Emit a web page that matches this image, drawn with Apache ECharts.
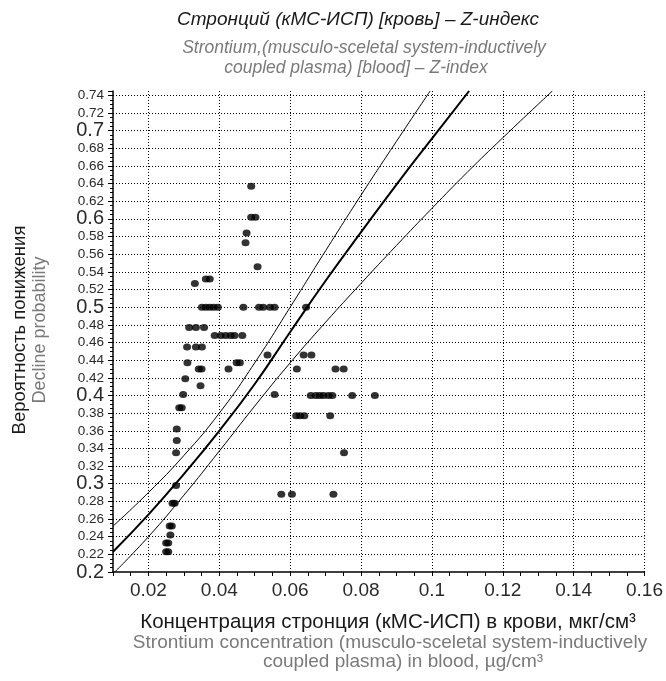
<!DOCTYPE html>
<html>
<head>
<meta charset="utf-8">
<script src="https://cdn.jsdelivr.net/npm/echarts@6/dist/echarts.min.js"></script>
<style>
html,body{margin:0;padding:0;background:#fff;}
#chart{width:666px;height:681px;}
</style>
</head>
<body>
<div id="chart"></div>
<script>
// ---- data ----
const xGridTicks = [0.02, 0.04, 0.06, 0.08, 0.10, 0.12, 0.14, 0.16];
const yGridTicks = [0.22, 0.24, 0.26, 0.28, 0.30, 0.32, 0.34, 0.36, 0.38, 0.40, 0.42, 0.44, 0.46, 0.48, 0.50, 0.52, 0.54, 0.56, 0.58, 0.60, 0.62, 0.64, 0.66, 0.68, 0.70, 0.72, 0.74];

const centralX = [0.01, 0.02, 0.03, 0.04, 0.05, 0.06, 0.07, 0.08, 0.09, 0.10, 0.1105];
const centralP = [0.223, 0.265, 0.311, 0.360, 0.413, 0.472, 0.530, 0.585, 0.639, 0.691, 0.745];

const upperX = [0.01, 0.02, 0.03, 0.04, 0.05, 0.06, 0.07, 0.08, 0.09, 0.0995];
const upperP = [0.252, 0.290, 0.332, 0.380, 0.437, 0.500, 0.564, 0.627, 0.688, 0.745];

const lowerX = [0.0105, 0.02, 0.03, 0.04, 0.05, 0.06, 0.07, 0.08, 0.09, 0.10, 0.11, 0.12, 0.13, 0.134];
const lowerP = [0.200, 0.240, 0.287, 0.337, 0.388, 0.437, 0.483, 0.527, 0.570, 0.612, 0.653, 0.692, 0.730, 0.745];

const pointX = [
  0.0490,
  0.0490, 0.0502,
  0.0477,
  0.0474,
  0.0508,
  0.0362, 0.0373,
  0.0331,
  0.0351, 0.0362, 0.0373, 0.0384, 0.0396, 0.0468, 0.0512, 0.0524, 0.0543, 0.0556, 0.0645,
  0.0315, 0.0334, 0.0357,
  0.0387, 0.0404, 0.0418, 0.0432, 0.0443, 0.0465,
  0.0309, 0.0334, 0.0351,
  0.0536, 0.0638, 0.0660,
  0.0310, 0.0449, 0.0458,
  0.0342, 0.0350, 0.0426, 0.0619, 0.0728, 0.0751,
  0.0304,
  0.0347,
  0.0298, 0.0556,
  0.0658, 0.0672, 0.0683, 0.0694, 0.0708, 0.0719, 0.0775, 0.0839,
  0.0287, 0.0294,
  0.0617, 0.0628, 0.0640, 0.0713,
  0.0280,
  0.0280,
  0.0278, 0.0752,
  0.0278,
  0.0575, 0.0605, 0.0722,
  0.0268, 0.0274,
  0.0260, 0.0266,
  0.0262,
  0.0250, 0.0256,
  0.0250, 0.0256
];
const pointP = [
  0.637,
  0.602, 0.602,
  0.584,
  0.573,
  0.546,
  0.532, 0.532,
  0.527,
  0.500, 0.500, 0.500, 0.500, 0.500, 0.500, 0.500, 0.500, 0.500, 0.500, 0.500,
  0.477, 0.477, 0.477,
  0.468, 0.468, 0.468, 0.468, 0.468, 0.468,
  0.455, 0.455, 0.455,
  0.446, 0.446, 0.446,
  0.437, 0.437, 0.437,
  0.430, 0.430, 0.430, 0.430, 0.430, 0.430,
  0.419,
  0.411,
  0.401, 0.401,
  0.400, 0.400, 0.400, 0.400, 0.400, 0.400, 0.400, 0.400,
  0.386, 0.386,
  0.377, 0.377, 0.377, 0.377,
  0.362,
  0.349,
  0.335, 0.335,
  0.298,
  0.288, 0.288, 0.288,
  0.278, 0.278,
  0.252, 0.252,
  0.242,
  0.233, 0.233,
  0.223, 0.223
];

// ---- chart ----
const FONT = '"Liberation Sans", Arial, sans-serif';
const zip = (xs, ys) => xs.map((x, i) => [x, ys[i]]);
const chart = echarts.init(document.getElementById('chart'), null, {renderer: 'canvas'});

const option = {
  animation: false,
  backgroundColor: '#fff',
  grid: {left: 113, right: 15, top: 91, bottom: 109, containLabel: false},
  xAxis: {
    type: 'value', min: 0.01, max: 0.16, interval: 0.005,
    axisLine: {show: true, onZero: false, lineStyle: {color: '#000', width: 1.5}},
    axisTick: {show: true, length: 4, lineStyle: {color: '#000', width: 1}},
    axisLabel: {
      margin: 9, fontSize: 19, color: '#2a2a2a', fontFamily: FONT,
      showMinLabel: true, showMaxLabel: true,
      formatter: function (v) {
        const k = Math.round(v * 1000);
        return (k % 20 === 0 && k >= 20) ? String(+v.toFixed(2)) : '';
      }
    },
    splitLine: {show: false}
  },
  yAxis: {
    type: 'value', min: 0.2, max: 0.745, interval: 0.02,
    axisLine: {show: true, onZero: false, lineStyle: {color: '#000', width: 1.5}},
    axisTick: {show: true, length: 5, lineStyle: {color: '#000', width: 1}},
    minorTick: {show: true, splitNumber: 4, length: 3, lineStyle: {color: '#000', width: 1}},
    axisLabel: {
      margin: 9, color: '#2a2a2a', fontFamily: FONT, showMaxLabel: true,
      formatter: function (v) {
        const k = Math.round(v * 1000);
        if (k % 20 !== 0) return '';
        const s = String(+v.toFixed(2));
        return k % 100 === 0 ? '{b|' + s + '}' : '{s|' + s + '}';
      },
      rich: {
        b: {fontSize: 20, color: '#2a2a2a', fontFamily: FONT},
        s: {fontSize: 13.5, color: '#2a2a2a', fontFamily: FONT}
      }
    },
    splitLine: {show: false}
  },
  series: [
    {
      type: 'line', data: [], silent: true, z: 1,
      markLine: {
        silent: true, symbol: ['none', 'none'], label: {show: false},
        lineStyle: {color: '#000', type: [1, 2], width: 1},
        emphasis: {disabled: true},
        data: xGridTicks.map(v => ({xAxis: v})).concat(yGridTicks.map(v => ({yAxis: v})))
      }
    },
    {
      type: 'line', data: zip(upperX, upperP), smooth: true, symbol: 'none', silent: true, z: 3,
      lineStyle: {color: '#000', width: 1}
    },
    {
      type: 'line', data: zip(centralX, centralP), smooth: true, symbol: 'none', silent: true, z: 3,
      lineStyle: {color: '#000', width: 2}
    },
    {
      type: 'line', data: zip(lowerX, lowerP), smooth: true, symbol: 'none', silent: true, z: 3,
      lineStyle: {color: '#000', width: 1}
    },
    {
      type: 'scatter', data: zip(pointX, pointP), symbol: 'circle', symbolSize: [8, 7], z: 4,
      itemStyle: {color: '#000'}, silent: true
    }
  ],
  graphic: [
    {type: 'text', x: 358, y: 20, style: {text: 'Стронций (кМС-ИСП) [кровь] – Z-индекс', font: 'italic 19px ' + FONT, fill: '#1a1a1a', align: 'center', verticalAlign: 'middle'}},
    {type: 'text', x: 364, y: 48, style: {text: 'Strontium,(musculo-sceletal system-inductively', font: 'italic 17.5px ' + FONT, fill: '#7a7a7a', align: 'center', verticalAlign: 'middle'}},
    {type: 'text', x: 356, y: 68, style: {text: 'coupled plasma) [blood] – Z-index', font: 'italic 17.5px ' + FONT, fill: '#7a7a7a', align: 'center', verticalAlign: 'middle'}},
    {type: 'text', x: 388, y: 622, style: {text: 'Концентрация стронция (кМС-ИСП) в крови, мкг/см³', font: '20.5px ' + FONT, fill: '#1a1a1a', align: 'center', verticalAlign: 'middle'}},
    {type: 'text', x: 390, y: 643, style: {text: 'Strontium concentration (musculo-sceletal system-inductively', font: '19px ' + FONT, fill: '#7a7a7a', align: 'center', verticalAlign: 'middle'}},
    {type: 'text', x: 403, y: 662, style: {text: 'coupled plasma) in blood, µg/cm³', font: '19px ' + FONT, fill: '#7a7a7a', align: 'center', verticalAlign: 'middle'}},
    {type: 'text', x: 20, y: 330, rotation: Math.PI / 2, style: {text: 'Вероятность понижения', font: '18.5px ' + FONT, fill: '#1a1a1a', align: 'center', verticalAlign: 'middle'}},
    {type: 'text', x: 40, y: 330, rotation: Math.PI / 2, style: {text: 'Decline probability', font: '18px ' + FONT, fill: '#7a7a7a', align: 'center', verticalAlign: 'middle'}}
  ]
};
chart.setOption(option);
</script>
</body>
</html>
